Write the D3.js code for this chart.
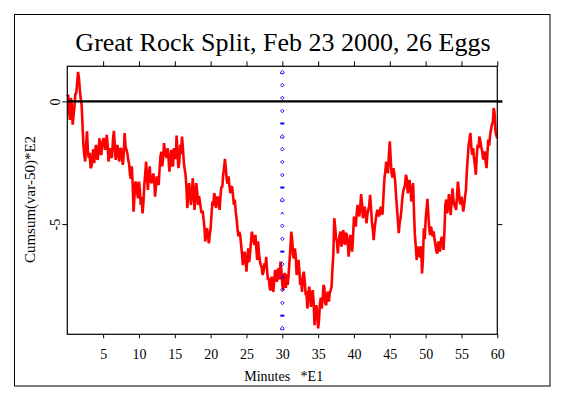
<!DOCTYPE html>
<html>
<head>
<meta charset="utf-8">
<script src="https://cdn.jsdelivr.net/npm/d3@7"></script>
<style>
  html, body { margin: 0; padding: 0; background: #fff; }
  svg { display: block; }
  text { font-family: "Liberation Serif", "Times New Roman", serif; fill: #000; }
</style>
</head>
<body>
<svg id="chart" width="564" height="398"></svg>
<script>
// ---- data ----
const title = "Great Rock Split, Feb 23 2000, 26 Eggs";
const xLabel = "Minutes   *E1";
const yLabel = "Cumsum(var-50)*E2";
const xTicks = [5, 10, 15, 20, 25, 30, 35, 40, 45, 50, 55, 60];
const yTicks = [0, -5];

// cumulative deviation read at x = 0, 0.25, 0.5 ... 60
const cumsumQuarter = [
  0.20, -0.41, 0.14, -0.95, -0.20, 0.34, 1.20, 0.48,
  -0.14, -1.77, -2.45, -1.22, -2.31, -2.72, -2.24, -2.52,
  -1.77, -2.38, -1.50, -2.18, -1.56, -1.97, -1.36, -2.45,
  -1.90, -2.24, -1.20, -2.38, -1.77, -2.45, -1.90, -2.59,
  -1.29, -1.97, -2.38, -2.99, -2.65, -4.49, -3.27, -3.74,
  -3.27, -4.22, -4.56, -3.40, -2.45, -3.61, -2.65, -3.33,
  -2.93, -3.88, -3.06, -3.40, -2.24, -2.65, -1.70, -2.18,
  -1.90, -2.86, -1.97, -2.65, -2.10,
  -1.39, -2.72, -1.77, -1.43, -2.45, -2.99, -4.35, -3.33,
  -4.22, -3.13, -4.42, -3.33, -4.22, -4.08, -4.56, -4.76,
  -5.71, -5.17, -5.78, -5.17, -4.08, -3.74, -4.35, -3.88,
  -4.42, -3.47, -2.99, -2.34, -3.20, -3.06, -3.74, -3.47,
  -4.22, -4.49, -5.17, -5.31, -5.85, -6.67, -6.12, -6.94,
  -5.99, -6.19, -5.31, -5.71, -5.44, -6.46, -6.19, -6.67,
  -7.07, -6.60, -6.33, -7.28, -7.62, -7.14, -7.76, -6.87,
  -7.35, -6.80, -6.53, -7.48,
  -7.07, -7.60, -7.48, -6.53, -5.31, -6.26, -5.99, -7.07,
  -6.46, -7.48, -7.76, -6.94, -7.82, -8.44, -7.55, -8.37,
  -7.69, -9.12, -8.30, -9.25, -8.23, -8.44, -7.48, -8.23,
  -7.89, -8.16, -7.69, -6.80, -4.76, -5.58, -6.19, -5.44,
  -5.92, -5.24, -5.85, -5.44, -6.33, -5.44, -6.12, -4.69,
  -5.10, -4.22, -4.69, -3.78, -4.76, -4.29, -4.97, -4.42,
  -3.81, -4.90, -5.65, -4.90, -4.42, -4.69, -4.29, -4.56,
  -3.13, -2.45, -2.93, -1.63,
  -2.93, -2.72, -3.27, -4.35, -5.37, -4.76, -3.95, -3.54,
  -2.99, -3.74, -3.20, -4.08, -3.33, -5.44, -6.46, -5.92,
  -6.33, -7.01, -5.17, -4.83, -3.97, -5.17, -5.10, -5.51,
  -5.65, -6.12, -5.71, -6.12, -5.51, -6.05, -4.22, -4.56,
  -3.78, -4.63, -3.54, -4.22, -4.42, -3.27, -4.08, -3.88,
  -4.49, -3.88, -2.86, -1.77, -1.29, -2.18, -2.31, -2.99,
  -1.77, -1.43, -1.84, -2.31, -2.04, -2.72, -1.56, -1.36,
  -0.95, -0.27, -1.22, -1.50
];

// cumulative deviation read between those, at x = 0.125, 0.375 ... 59.875
const cumsumBetween = [
  0.27, -0.75, -0.14, -0.55, 0.30, 0.75, 0.95, 0.10,
  -0.95, -2.20, -1.80, -2.05, -2.10, -2.65, -1.95, -2.10,
  -2.30, -1.90, -2.10, -1.70, -1.50, -1.90, -1.75, -2.05,
  -2.30, -1.55, -1.75, -2.10, -2.20, -1.95, -2.30, -2.15,
  -1.85, -2.10, -2.55, -3.15, -3.40, -3.85, -3.35, -3.95,
  -3.60, -3.90, -4.10, -2.95, -3.10, -3.00, -3.20, -3.20,
  -3.20, -3.45, -3.25, -2.75, -2.05, -2.30, -2.05, -2.30,
  -2.30, -2.45, -2.55, -1.90,
  -2.35, -2.10, -2.50, -2.15, -1.85, -2.75, -3.50, -3.70,
  -3.70, -3.85, -3.60, -3.95, -3.70, -3.85, -4.35, -4.45,
  -5.10, -5.40, -5.45, -5.45, -4.60, -4.25, -3.90, -3.95,
  -4.10, -3.85, -3.50, -2.70, -2.75, -3.35, -3.45, -3.50,
  -3.85, -4.00, -4.80, -5.50, -5.45, -6.20, -6.35, -6.45,
  -6.40, -6.55, -5.75, -5.50, -5.85, -6.00, -5.70, -6.50,
  -6.75, -6.95, -6.80, -6.90, -7.20, -7.70, -7.40, -7.30,
  -6.95, -6.90, -7.25, -6.90,
  -7.70, -7.00, -7.05, -7.10, -6.00, -5.60, -6.40, -6.30,
  -6.95, -6.85, -7.20, -7.10, -7.30, -7.80, -7.95, -7.80,
  -8.05, -8.20, -8.60, -8.60, -8.90, -8.00, -8.05, -7.60,
  -8.30, -7.75, -7.80, -7.55, -6.20, -5.10, -5.70, -5.70,
  -5.30, -5.70, -5.55, -5.35, -5.65, -5.95, -5.75, -5.50,
  -4.85, -4.60, -4.45, -4.30, -4.20, -4.50, -4.60, -4.60,
  -4.25, -4.30, -5.20, -5.20, -4.65, -4.50, -4.50, -4.60,
  -3.80, -2.85, -2.65, -2.20,
  -2.35, -3.10, -2.95, -3.85, -4.85, -4.95, -4.40, -3.65,
  -3.40, -3.15, -3.55, -3.50, -3.90, -4.50, -5.90, -6.05,
  -6.30, -5.90, -6.40, -5.60, -4.40, -4.60, -5.45, -5.30,
  -5.30, -5.85, -6.20, -5.90, -5.70, -5.80, -5.30, -4.00,
  -4.30, -4.20, -4.05, -4.00, -4.30, -3.90, -3.60, -4.20,
  -4.15, -4.25, -3.60, -2.30, -1.55, -1.85, -1.90, -2.60,
  -2.30, -1.90, -1.60, -2.00, -2.35, -2.45, -2.10, -1.80,
  -1.15, -0.85, -0.50, -1.40
];

// event marker column at x = 30
const markerX = 30;
const markerValues = [1.19, 0.66, 0.14, -0.39, -0.90, -1.43, -1.95, -2.47, -3.00, -3.51,
  -4.01, -4.56, -5.07, -5.60, -6.12, -6.63, -7.16, -7.68, -8.21, -8.73, -9.24];
const markerKinds = ["house", "diamond", "diamond", "diamond", "bar", "house", "diamond", "diamond", "diamond", "bar",
  "house", "tri", "diamond", "diamond", "bar", "diamond", "diamond", "diamond", "diamond", "bar", "house"];

// ---- drawing ----
const svg = d3.select("#chart");
const plot = { left: 67.3, right: 497.3, top: 66.3, bottom: 334.3 };

const x = d3.scaleLinear().domain([0, 60]).range([plot.left, plot.right]);
const y = d3.scaleLinear().domain([-9.49, 1.43]).range([plot.bottom, plot.top]);

// outer frame
svg.append("rect")
  .attr("x", 14.5).attr("y", 14.5).attr("width", 535.5).attr("height", 371.5)
  .attr("fill", "none").attr("stroke", "#000").attr("stroke-width", 1);

// title
svg.append("text")
  .attr("x", 283).attr("y", 51)
  .attr("text-anchor", "middle")
  .style("font-size", "26px")
  .text(title);

// data line: merge the two readings in x order
const points = d3.merge([
  cumsumQuarter.map((v, i) => [i * 0.25, v]),
  cumsumBetween.map((v, i) => [i * 0.25 + 0.125, v])
]).sort((a, b) => a[0] - b[0]);

const line = d3.line().x(d => x(d[0])).y(d => y(d[1]));
svg.append("path")
  .datum(points)
  .attr("d", line)
  .attr("fill", "none")
  .attr("stroke", "#ff0000")
  .attr("stroke-width", 2.6)
  .attr("stroke-linejoin", "miter")
  .attr("stroke-miterlimit", 2);

// plot box
svg.append("rect")
  .attr("x", plot.left).attr("y", plot.top)
  .attr("width", plot.right - plot.left).attr("height", plot.bottom - plot.top)
  .attr("fill", "none").attr("stroke", "#000").attr("stroke-width", 1.2);

// axes
const gBottom = svg.append("g").attr("transform", `translate(0,${plot.bottom})`)
  .call(d3.axisBottom(x).tickValues(xTicks).tickSize(4).tickPadding(11).tickFormat(d3.format("d")));
const gTop = svg.append("g").attr("transform", `translate(0,${plot.top})`)
  .call(d3.axisTop(x).tickValues(xTicks).tickSize(5).tickFormat(""));
const gLeft = svg.append("g").attr("transform", `translate(${plot.left},0)`)
  .call(d3.axisLeft(y).tickValues(yTicks).tickSize(5).tickFormat(d => String(d)));
const gRight = svg.append("g").attr("transform", `translate(${plot.right},0)`)
  .call(d3.axisRight(y).tickValues(yTicks).tickSize(5).tickFormat(""));

[gBottom, gTop, gLeft, gRight].forEach(g => {
  g.select(".domain").remove();
  g.selectAll(".tick line").attr("stroke", "#000").attr("stroke-width", 1);
});
gBottom.selectAll(".tick text")
  .style("font-size", "14px").attr("font-family", null).attr("fill", "#000");
gLeft.selectAll(".tick text")
  .style("font-size", "14px").attr("font-family", null).attr("fill", "#000")
  .attr("x", null).attr("dy", null)
  .attr("text-anchor", "middle")
  .attr("transform", "translate(-7.3,0) rotate(-90)")
  .attr("y", 0);

// zero reference line
svg.append("line")
  .attr("x1", plot.left).attr("x2", plot.right + 5)
  .attr("y1", y(0)).attr("y2", y(0))
  .attr("stroke", "#000").attr("stroke-width", 2.2);

// event markers
const gm = svg.append("g").attr("fill", "none").attr("stroke", "#0000ff").attr("stroke-width", 0.9);
markerValues.forEach((v, i) => {
  const cx = x(markerX), cy = y(v), k = markerKinds[i];
  if (k === "bar") {
    gm.append("rect").attr("x", cx - 2).attr("y", cy - 1).attr("width", 4).attr("height", 2)
      .attr("fill", "#0000ff").attr("stroke", "none");
  } else if (k === "diamond") {
    gm.append("path").attr("d", `M${cx},${cy - 1.8}L${cx + 1.8},${cy}L${cx},${cy + 1.8}L${cx - 1.8},${cy}Z`);
  } else if (k === "house") {
    gm.append("path").attr("d", `M${cx - 1.6},${cy + 1.5}L${cx - 1.6},${cy - 0.3}L${cx},${cy - 1.8}L${cx + 1.6},${cy - 0.3}L${cx + 1.6},${cy + 1.5}Z`);
  } else {
    gm.append("path").attr("d", `M${cx - 1.3},${cy + 1}L${cx},${cy - 1.2}L${cx + 1.3},${cy + 1}`);
  }
});

// axis titles
svg.append("text")
  .attr("x", 283.7).attr("y", 380.5)
  .attr("text-anchor", "middle")
  .style("font-size", "14px")
  .style("white-space", "pre")
  .text(xLabel);

svg.append("text")
  .attr("transform", "translate(35,199.5) rotate(-90)")
  .attr("text-anchor", "middle")
  .style("font-size", "15px")
  .text(yLabel);
</script>
</body>
</html>
